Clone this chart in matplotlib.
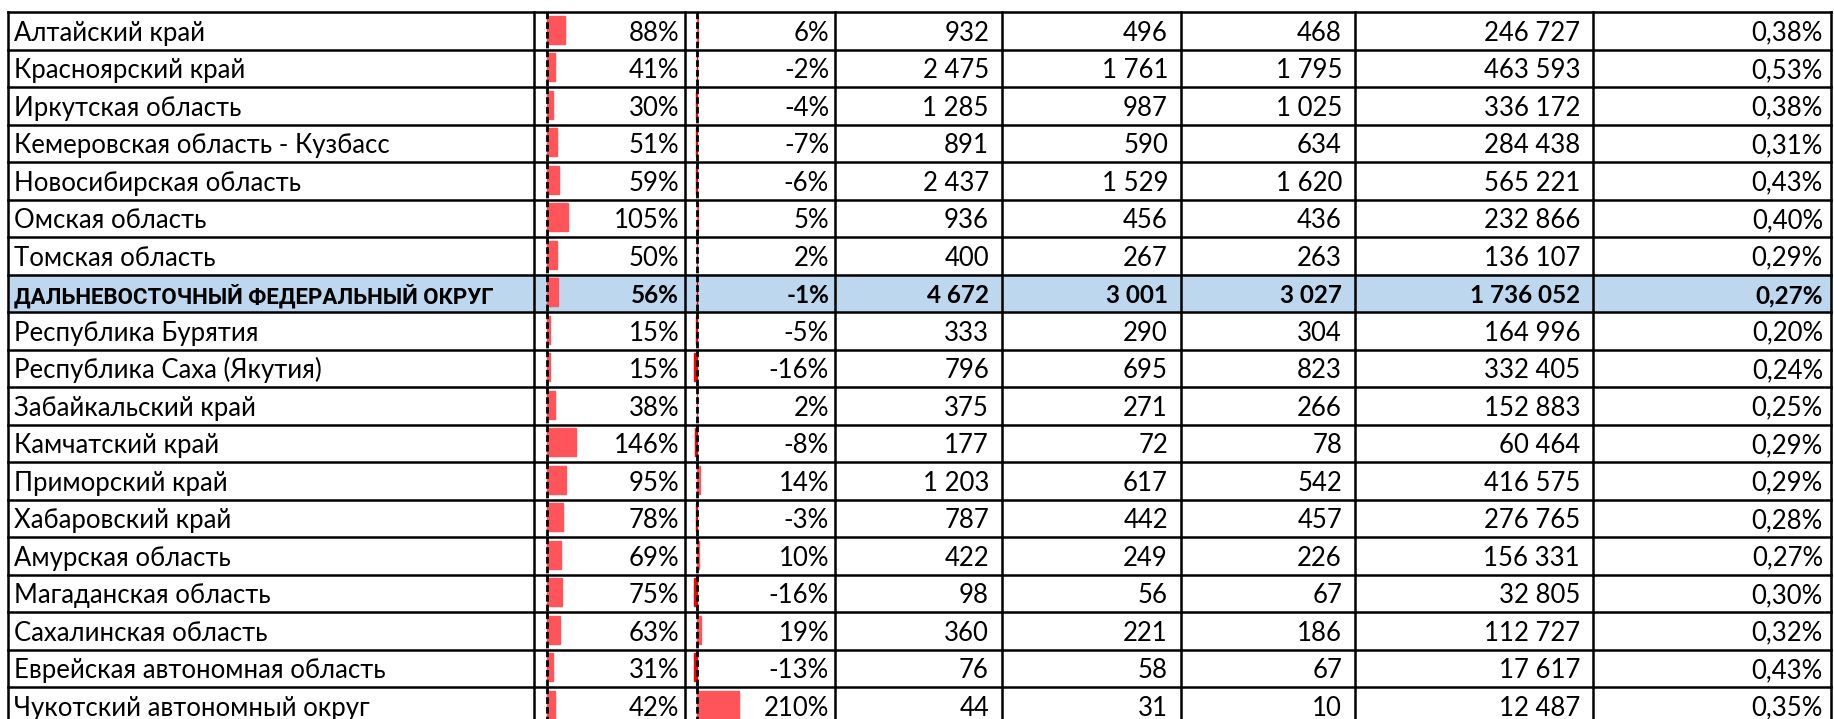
import matplotlib
matplotlib.use("Agg")
from matplotlib import pyplot as plt
from matplotlib.patches import Rectangle

# Данные таблицы
regions = ["Алтайский край", "Красноярский край", "Иркутская область",
           "Кемеровская область - Кузбасс", "Новосибирская область",
           "Омская область", "Томская область",
           "ДАЛЬНЕВОСТОЧНЫЙ ФЕДЕРАЛЬНЫЙ ОКРУГ", "Республика Бурятия",
           "Республика Саха (Якутия)", "Забайкальский край", "Камчатский край",
           "Приморский край", "Хабаровский край", "Амурская область",
           "Магаданская область", "Сахалинская область",
           "Еврейская автономная область", "Чукотский автономный округ"]
growth = [88, 41, 30, 51, 59, 105, 50, 56, 15, 15, 38, 146, 95, 78, 69, 75, 63, 31, 42]
change = [6, -2, -4, -7, -6, 5, 2, -1, -5, -16, 2, -8, 14, -3, 10, -16, 19, -13, 210]
col_a = [932, 2475, 1285, 891, 2437, 936, 400, 4672, 333, 796, 375, 177, 1203, 787, 422, 98, 360, 76, 44]
col_b = [496, 1761, 987, 590, 1529, 456, 267, 3001, 290, 695, 271, 72, 617, 442, 249, 56, 221, 58, 31]
col_c = [468, 1795, 1025, 634, 1620, 436, 263, 3027, 304, 823, 266, 78, 542, 457, 226, 67, 186, 67, 10]
population = [246727, 463593, 336172, 284438, 565221, 232866, 136107, 1736052,
              164996, 332405, 152883, 60464, 416575, 276765, 156331, 32805,
              112727, 17617, 12487]
share = [0.38, 0.53, 0.38, 0.31, 0.43, 0.40, 0.29, 0.27, 0.20, 0.24, 0.25,
         0.29, 0.29, 0.28, 0.27, 0.30, 0.32, 0.43, 0.35]
highlight = [7]

# Геометрия таблицы (в пикселях)
col_x = [8, 534, 685, 835, 1002, 1181, 1355, 1593, 1831]
top, row_h = 12, 37.5
bar_scale = 0.2  # px на 1%
pos_color, neg_color = "#ff555a", "#ff0000"

plt.rcParams['font.family'] = ['Lato', 'Noto Sans', 'DejaVu Sans']
fig = plt.figure(figsize=(18.34, 7.19), dpi=100)
ax = fig.add_axes([0, 0, 1, 1])
ax.set_xlim(0, 1834)
ax.set_ylim(719, 0)
ax.axis("off")

fs = 18.5
fs_bold_label, fs_bold_num = 16, 17.5


def fmt_int(v):
    return f"{v:,}".replace(",", " ")


for i, name in enumerate(regions):
    y0 = top + i * row_h
    base = y0 + 28.7
    bold = i in highlight
    fw = "bold" if bold else "normal"
    if bold:
        ax.add_patch(Rectangle((col_x[0], y0), col_x[-1] - col_x[0], row_h,
                               color="#bdd7ee", zorder=0))

    # data bars
    for axis_x, v in ((547, growth[i]), (697, change[i])):
        w = v * bar_scale
        ax.add_patch(Rectangle((axis_x, y0 + 3.5), w, 28,
                               color=pos_color if v >= 0 else neg_color, zorder=1))
        ax.plot([axis_x, axis_x], [y0, y0 + row_h], color="black", lw=2.0,
                linestyle=(0, (2.4, 1.1)), zorder=2)

    if bold:
        ax.text(col_x[0] + 6, base, name, fontsize=fs_bold_label, fontweight="bold",
                family=['Roboto', 'DejaVu Sans'], va="baseline", ha="left")
    else:
        ax.text(col_x[0] + 6, base, name, fontsize=fs, va="baseline", ha="left")
    cells = [(f"{growth[i]}%", 6), (f"{change[i]}%", 6),
             (fmt_int(col_a[i]), 13), (fmt_int(col_b[i]), 13), (fmt_int(col_c[i]), 13),
             (fmt_int(population[i]), 13), (f"{share[i]:.2f}%".replace(".", ","), 8)]
    for j, (txt, pad) in enumerate(cells):
        ax.text(col_x[j + 2] - pad, base, txt, fontsize=fs_bold_num if bold else fs,
                fontweight=fw, va="baseline", ha="right", zorder=3)

# сетка
n = len(regions)
for i in range(n + 1):
    y = top + i * row_h
    ax.plot([col_x[0], col_x[-1]], [y, y], color="black", lw=1.8, zorder=4)
for x in col_x:
    ax.plot([x, x], [top, top + n * row_h], color="black", lw=1.8, zorder=4)

fig.savefig("out.png", dpi=100)
